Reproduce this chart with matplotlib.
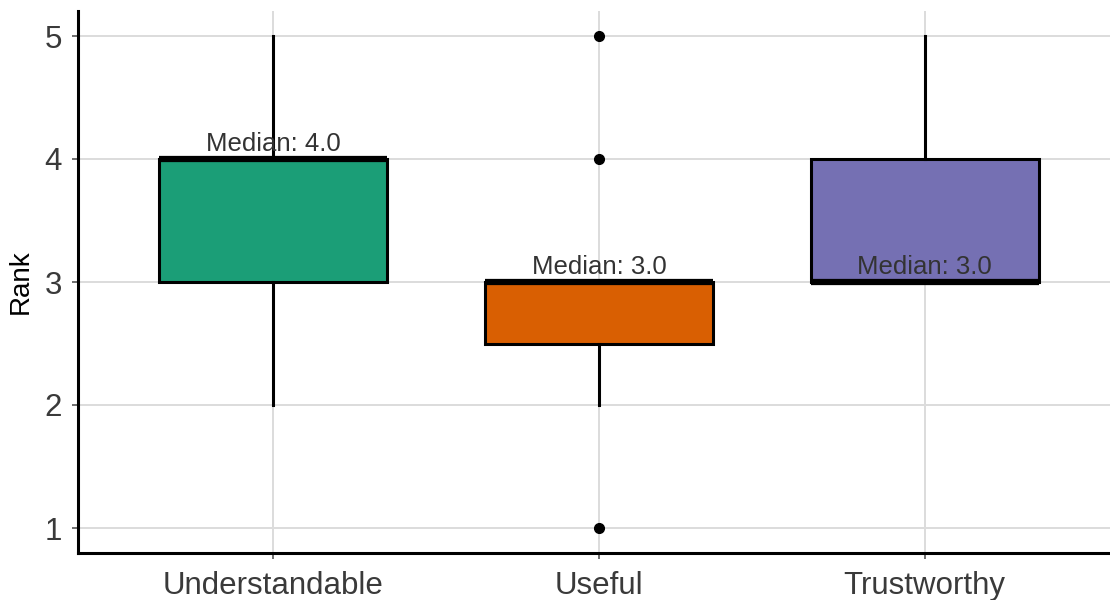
import matplotlib.pyplot as plt

# 박스플롯 요약값 (순위 1~5)
categories = ["Understandable", "Useful", "Trustworthy"]
q1 = [3.0, 2.5, 3.0]
medians = [4.0, 3.0, 3.0]
q3 = [4.0, 3.0, 4.0]
whisker_low = [2.0, 2.0, 3.0]
whisker_high = [5.0, 3.0, 5.0]
outliers = [[], [1.0, 4.0, 5.0], []]
colors = ["#1B9E77", "#D95F02", "#7570B3"]

plt.rcParams['font.family'] = ['Liberation Sans', 'DejaVu Sans']

fig = plt.figure(figsize=(11.1, 6), dpi=100)
ax = fig.add_axes([78 / 1110, 1 - 552.6 / 600, 1042 / 1110, (552.6 - 11.4) / 600])

stats = []
for i in range(len(categories)):
    stats.append({
        "med": medians[i], "q1": q1[i], "q3": q3[i],
        "whislo": whisker_low[i], "whishi": whisker_high[i],
        "fliers": outliers[i], "label": categories[i],
    })

positions = list(range(1, len(categories) + 1))
bp = ax.bxp(stats, positions=positions, widths=0.7, patch_artist=True,
            showcaps=False,
            boxprops=dict(edgecolor="black", linewidth=2.2),
            whiskerprops=dict(color="black", linewidth=2.2),
            medianprops=dict(color="black", linewidth=4.5, solid_capstyle="butt"),
            flierprops=dict(marker="o", markersize=7, markerfacecolor="black",
                            markeredgecolor="black"),
            zorder=3)
for patch, c in zip(bp["boxes"], colors):
    patch.set_facecolor(c)

# 중앙값 라벨
for x, m in zip(positions, medians):
    ax.annotate(f"Median: {m:.1f}", xy=(x, m), xytext=(0, 2),
                textcoords="offset points", ha="center", va="bottom",
                fontsize=18.5, color="#333333", zorder=5)

ax.set_xlim(0.4, 3.6)
ax.set_ylim(0.8, 5.2)
ax.set_yticks([1, 2, 3, 4, 5])
ax.set_xticks(positions)
ax.set_xticklabels(categories)
ax.set_ylabel("Rank", fontsize=20, color="black", labelpad=8)

ax.grid(True, color="#DCDCDC", linewidth=1.4, zorder=0)
ax.set_axisbelow(True)
ax.tick_params(axis="both", labelsize=22.5, labelcolor="#3A3A3A",
               color="#555555", length=4.5, width=1.2)
ax.tick_params(axis="x", pad=9)
ax.tick_params(axis="y", pad=7)

for side in ["top", "right"]:
    ax.spines[side].set_visible(False)
for side in ["left", "bottom"]:
    ax.spines[side].set_linewidth(2.2)
    ax.spines[side].set_color("black")

fig.savefig("out.png", dpi=100)
